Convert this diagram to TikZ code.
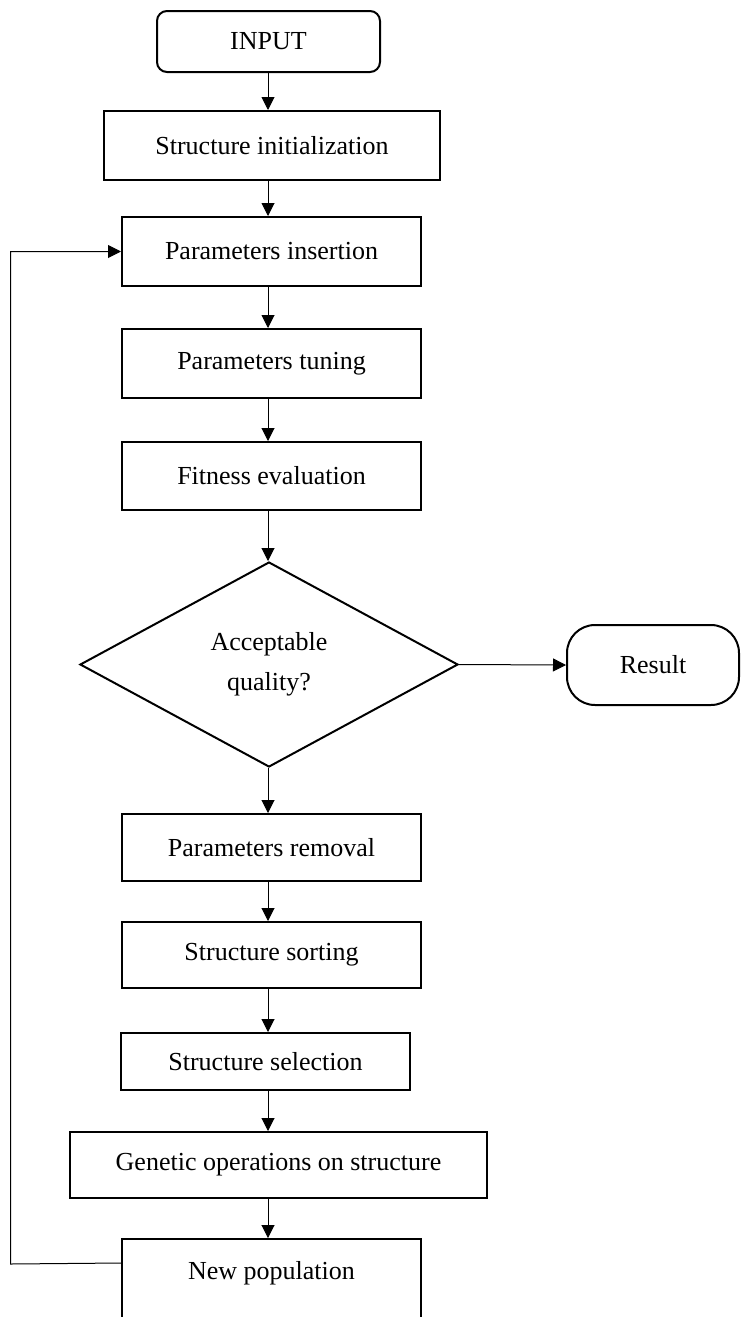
\documentclass[tikz,border=0pt]{standalone}
\usepackage{fontspec}
\setmainfont{Liberation Serif}
\usetikzlibrary{arrows.meta,shapes.geometric}

\begin{document}
\begin{tikzpicture}[x=0.5pt, y=-0.5pt,
  every node/.style={font=\fontsize{13pt}{20pt}\selectfont},
  procbox/.style={draw, line width=1pt, minimum width=149.5pt, minimum height=34pt, inner sep=2pt},
  termbox/.style={draw, line width=1pt, rounded corners=5pt, inner sep=2pt},
  decision/.style={draw, diamond, line width=1pt, align=center, minimum width=189pt, minimum height=102.5pt, inner sep=0pt},
  flow/.style={-{Triangle[length=6.5pt, width=6.5pt]}, line width=0.5pt}]
\useasboundingbox (0,0) rectangle (741,1317);

% Start and end
\node[termbox, minimum width=111.5pt, minimum height=30.5pt] (input) at (268.5,41.5) {INPUT};
\node[termbox, rounded corners=14pt, minimum width=86pt, minimum height=40pt] (result) at (653,665) {Result};

% Main column
\node[procbox, minimum width=168pt, minimum height=34.5pt] (init) at (272,145.5) {Structure initialization};
\node[procbox, minimum height=34.5pt] (insert) at (271.5,251.5) {Parameters insertion};
\node[procbox, minimum height=34.5pt] (tune) at (271.5,363.5) {Parameters tuning};
\node[procbox] (fit) at (271.5,476) {Fitness evaluation};
\node[decision] (quality) at (269,664.5) {Acceptable\\quality?};
\node[procbox, minimum height=33.5pt] (removal) at (271.5,847.5) {Parameters removal};
\node[procbox, minimum height=33pt] (sorting) at (271.5,955) {Structure sorting};
\node[procbox, minimum width=144.5pt, minimum height=28.5pt] (selection) at (265.5,1061.5) {Structure selection};
\node[procbox, minimum width=208.5pt, minimum height=33pt] (genetic) at (278.5,1165) {Genetic operations on structure};
\node[procbox, minimum height=42pt, text depth=11pt] (newpop) at (271.5,1281) {New population};

% Arrows down the column
\coordinate (axis) at (268,0);
\foreach \a/\b in {input/init, init/insert, insert/tune, tune/fit, fit/quality,
  quality/removal, removal/sorting, sorting/selection, selection/genetic, genetic/newpop}
  \draw[flow] (\a.south -| axis) -- (\b.north -| axis);

% Exit and loop back
\draw[flow] (quality.east) -- (result.west);
\coordinate (back) at (10.5,1264);
\draw[flow] ([yshift=-12.5pt]newpop.north west) -- (back) |- (insert.west);
\end{tikzpicture}
\end{document}
